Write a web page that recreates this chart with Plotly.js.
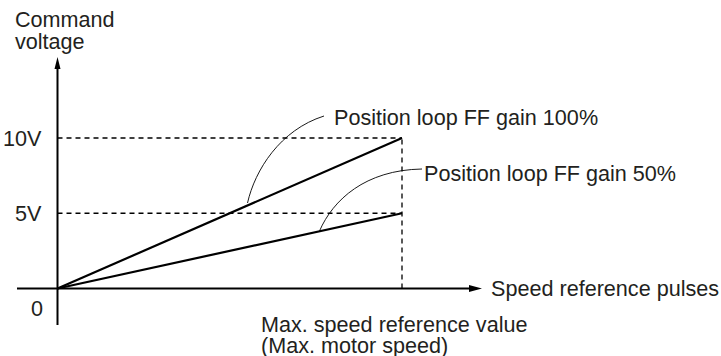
<!DOCTYPE html>
<html>
<head>
<meta charset="utf-8">
<script src="https://cdn.plot.ly/plotly-3.0.1.min.js"></script>
<style>html,body{margin:0;padding:0;background:#fff}</style>
</head>
<body>
<div id="chart" style="width:721px;height:356px"></div>
<script>
// speed reference pulses, as a fraction of the max. speed reference value
var speedRef = [0, 1];
// command voltage for each position loop FF gain
var volt100 = [0, 10];
var volt50 = [0, 5];
var gainLabels = ["Position loop FF gain 100%", "Position loop FF gain 50%"];
var yTickVals = [10, 5, 0];
var yTickText = ["10V", "5V", "0"];

// plot area covers the whole page, so map pixels to data units
var W = 721, H = 356;
var ox = 57.5, oy = 288.5;   // origin in pixels
var xs = 344.5, ys = 15.05;  // pixels per unit
function X(px) { return (px - ox) / xs; }
function Y(py) { return (oy - py) / ys; }

var ink = "#231f20";
var font = { family: "Liberation Sans, Arial, sans-serif", size: 21.6, color: ink };
var xMax = speedRef[speedRef.length - 1];

var traces = [
  { x: speedRef, y: volt100, mode: "lines", line: { color: "#000", width: 2.2 }, hoverinfo: "skip" },
  { x: speedRef, y: volt50, mode: "lines", line: { color: "#000", width: 2.2 }, hoverinfo: "skip" }
];

var dash = { color: "#000", width: 1.3, dash: "5px,4px" };
var shapes = [
  // guide lines to the end values
  { type: "line", xref: "x", yref: "y", x0: 0, x1: xMax, y0: volt100[1], y1: volt100[1], line: dash },
  { type: "line", xref: "x", yref: "y", x0: 0, x1: xMax, y0: volt50[1], y1: volt50[1], line: dash },
  { type: "line", xref: "x", yref: "y", x0: xMax, x1: xMax, y0: 0, y1: volt100[1], line: dash },
  // axes
  { type: "line", xref: "x", yref: "y", x0: X(17), x1: X(472), y0: 0, y1: 0, line: { color: "#000", width: 2 } },
  { type: "line", xref: "x", yref: "y", x0: 0, x1: 0, y0: Y(325), y1: Y(66), line: { color: "#000", width: 2 } },
  // arrow heads
  { type: "path", xref: "x", yref: "y", fillcolor: "#000", line: { width: 0 },
    path: "M" + X(482) + "," + 0 + " L" + X(469) + "," + (3.5 / ys) + " L" + X(469) + "," + (-3.5 / ys) + " Z" },
  { type: "path", xref: "x", yref: "y", fillcolor: "#000", line: { width: 0 },
    path: "M" + 0 + "," + Y(57) + " L" + X(54.5) + "," + Y(69) + " L" + X(60.5) + "," + Y(69) + " Z" },
  // leader curves to the labels
  { type: "path", xref: "x", yref: "y", line: { color: "#000", width: 0.9 },
    path: "M" + X(247.5) + "," + Y(203) + " C" + X(255) + "," + Y(170) + " " + X(280) + "," + Y(130) + " " + X(324) + "," + Y(116) },
  { type: "path", xref: "x", yref: "y", line: { color: "#000", width: 0.9 },
    path: "M" + X(319.5) + "," + Y(231) + " C" + X(333) + "," + Y(200) + " " + X(365) + "," + Y(170) + " " + X(422) + "," + Y(169) }
];

function label(text, x, y, xanchor) {
  return { text: text, x: x, y: y, xref: "x", yref: "y", xanchor: xanchor, yanchor: "middle",
           showarrow: false, font: font };
}

var annotations = [
  label("Command", X(13), Y(19.5), "left"),
  label("voltage", X(13), Y(41), "left"),
  label(yTickText[0], X(44), yTickVals[0], "right"),
  label(yTickText[1], X(44), yTickVals[1], "right"),
  label(yTickText[2], X(45), Y(308), "right"),
  label(gainLabels[0], X(332), Y(117), "left"),
  label(gainLabels[1], X(422), Y(173), "left"),
  label("Speed reference pulses", X(489), 0, "left"),
  label("Max. speed reference value", X(259), Y(324.5), "left"),
  label("(Max. motor speed)", X(259), Y(345.5), "left")
];

var layout = {
  width: W, height: H, autosize: false,
  margin: { l: 0, r: 0, t: 0, b: 0, pad: 0 },
  paper_bgcolor: "#fff", plot_bgcolor: "#fff",
  showlegend: false,
  xaxis: { range: [X(0), X(W)], visible: false, fixedrange: true },
  yaxis: { range: [Y(H), Y(0)], visible: false, fixedrange: true },
  shapes: shapes,
  annotations: annotations
};

Plotly.newPlot("chart", traces, layout, { displayModeBar: false, staticPlot: true });
</script>
</body>
</html>
